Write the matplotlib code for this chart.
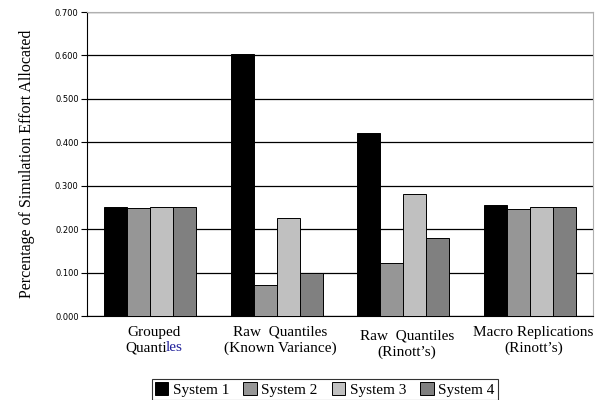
import matplotlib.pyplot as plt
from matplotlib.transforms import offset_copy
import numpy as np

categories = ["Grouped\nQuantiles", "Raw  Quantiles\n(Known Variance)",
              "Raw  Quantiles\n(Rinott\u2019s)", "Macro Replications\n(Rinott\u2019s)"]
series = ["System 1", "System 2", "System 3", "System 4"]
system1 = [0.250, 0.603, 0.422, 0.255]
system2 = [0.249, 0.072, 0.121, 0.246]
system3 = [0.251, 0.226, 0.281, 0.251]
system4 = [0.251, 0.099, 0.179, 0.251]
colors = ["#000000", "#969696", "#c0c0c0", "#808080"]

fig = plt.figure(figsize=(6.15, 4.0), dpi=100)
ax = fig.add_axes([0.1415, 0.21, 0.8225, 0.76])

x = np.arange(len(categories))
w = 0.182
for i, vals in enumerate([system1, system2, system3, system4]):
    ax.bar(x + (i - 1.5) * w, vals, w, color=colors[i], edgecolor="black",
           linewidth=0.7, label=series[i], zorder=3)

ax.set_xlim(-0.5, 3.5)
ax.set_ylim(0, 0.7)
ax.set_yticks(np.arange(0, 0.71, 0.1))
ax.set_yticklabels(["%.3f" % v for v in np.arange(0, 0.71, 0.1)], fontsize=6,
                   family="DejaVu Sans")
ax.yaxis.grid(True, color="black", linewidth=0.9, zorder=0)
ax.tick_params(axis="y", length=4, width=0.8, pad=2)
ax.tick_params(axis="x", length=0)
ax.set_xticks(x)
ax.set_xticklabels([])

for s in ["top", "right"]:
    ax.spines[s].set_color("#b0b0b0")
    ax.spines[s].set_linewidth(0.8)
ax.spines["left"].set_linewidth(0.8)
ax.spines["bottom"].set_linewidth(0.8)

# category labels under the groups (the third one sits a bit lower)
yoff = [-0.022, -0.022, -0.032, -0.022]
serif = "Liberation Serif"
fs = 11
for i, lab in enumerate(categories):
    if i == 0:
        continue
    ax.text(x[i] + 0.03, yoff[i], lab, ha="center", va="top", fontsize=fs,
            family=serif, linespacing=1.25)

# first label: second line is "Quanti" in black + "les" in blue
r = fig.canvas.get_renderer()
def size(s):
    t = fig.text(0, 0, s, fontsize=fs, family=serif, linespacing=1.25)
    e = t.get_window_extent(r)
    t.remove()
    return e.width, e.height

w_all = size("Quantiles")[0]
w_q = size("Quanti")[0]
pitch = size("A\nA")[1] - size("A")[1]
cx = x[0] + 0.03
ax.text(cx, yoff[0], "Grouped", ha="center", va="top", fontsize=fs, family=serif)
tr = offset_copy(ax.transData, fig=fig, x=w_q - w_all / 2 + 1, y=-pitch,
                 units="dots")
ax.text(cx, yoff[0], "Quanti", ha="right", va="top", fontsize=fs, family=serif,
        transform=tr)
tr_les = offset_copy(ax.transData, fig=fig, x=w_q - w_all / 2 - 1, y=-pitch,
                     units="dots")
ax.text(cx, yoff[0], "les", ha="left", va="top", fontsize=fs, family=serif,
        color="#1f1f9a", transform=tr_les)

ax.set_ylabel("Percentage of Simulation Effort Allocated", fontsize=11.5,
              family=serif, labelpad=14)

leg = fig.legend(loc="lower center", bbox_to_anchor=(0.528, 0.0), ncol=4,
                 prop={"family": serif, "size": 11},
                 frameon=True, fancybox=False, edgecolor="black",
                 handlelength=0.9, handleheight=0.9, handletextpad=0.3,
                 columnspacing=0.9, borderpad=0.2, borderaxespad=0.0)
leg.get_frame().set_linewidth(0.8)

fig.savefig("out.png", dpi=100)
